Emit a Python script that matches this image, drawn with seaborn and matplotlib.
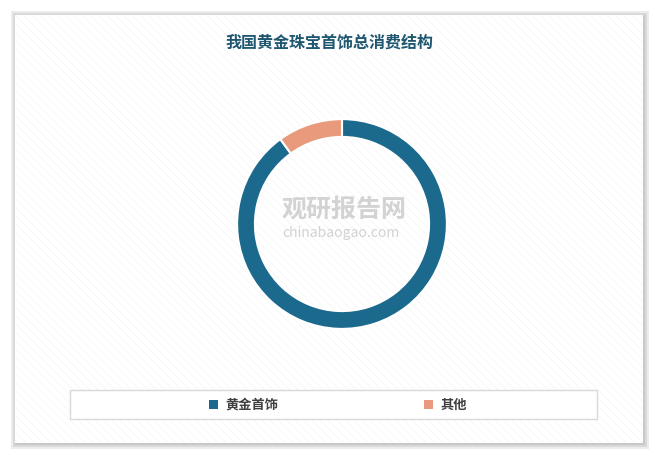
import matplotlib
matplotlib.use("Agg")
import matplotlib.pyplot as plt
from matplotlib.patches import Rectangle, Patch
import seaborn as sns

# data
categories = ["黄金首饰", "其他"]
shares = [90, 10]
colors = ["#1b6a8e", "#e99a7c"]
title = "我国黄金珠宝首饰总消费结构"

sns.set_theme(style="white")
plt.rcParams['font.family'] = ['Noto Sans CJK SC', 'DejaVu Sans']
plt.rcParams['hatch.linewidth'] = 0.5

W, H = 658, 457
fig = plt.figure(figsize=(W / 100, H / 100), dpi=100)
fig.patch.set_facecolor("white")


def px_rect(x0, y0, x1, y1, **kw):
    # rectangle given in pixel coords (top-left origin)
    return Rectangle((x0 / W, 1 - y1 / H), (x1 - x0) / W, (y1 - y0) / H,
                     transform=fig.transFigure, **kw)


# panel shadow + panel
for off, c in [(6, "#ececec"), (4, "#d9d9d9"), (2, "#c8c8c8")]:
    fig.patches.append(px_rect(15 - off + 2, 15 - off + 2, 643 + off, 443 + off,
                               facecolor=c, edgecolor="none", zorder=0))
fig.patches.append(px_rect(15, 15, 643, 443, facecolor="white", edgecolor="none", zorder=0))
fig.patches.append(px_rect(15, 15, 643, 443, facecolor="none", edgecolor="#f5f5f5",
                           hatch="\\\\\\\\", linewidth=0, zorder=0))

fig.text(0.5, 1 - 42 / H, title, ha="center", va="center", fontsize=11.5,
         fontweight="bold", color="#1f5670")

# donut
cx, cy, r = 342, 224, 107
ax = fig.add_axes([(cx - r) / W, 1 - (cy + r) / H, 2 * r / W, 2 * r / H])
ax.set_zorder(2)
ax.patch.set_alpha(0)
ax.pie(shares, colors=colors, startangle=90, counterclock=False, radius=1,
       wedgeprops=dict(width=0.17, edgecolor="white", linewidth=1.5))
ax.set_xlim(-1.02, 1.02)
ax.set_ylim(-1.02, 1.02)
ax.set_aspect("equal")
ax.axis("off")

# watermark
fig.text(0.5 + 15 / W, 1 - 210 / H, "观研报告网", ha="center", va="center",
         fontsize=18, fontweight="bold", color="#c8c8c8", alpha=0.8, zorder=3)
fig.text(0.5 + 12 / W, 1 - 233 / H, "chinabaogao.com", ha="center", va="center",
         fontsize=10, color="#c8c8c8", alpha=0.8, zorder=3)

# legend box
fig.patches.append(px_rect(70, 390, 597, 419, facecolor="white", edgecolor="#d9d9d9",
                           linewidth=1, zorder=1))
handles = [Patch(facecolor=c, edgecolor="none") for c in colors]
leg = fig.legend(handles, categories, loc="center", ncol=2,
                 bbox_to_anchor=(338 / W, 1 - 405 / H), frameon=False,
                 fontsize=9.5, handlelength=0.7, handleheight=0.7,
                 handletextpad=0.6, columnspacing=11)
for t in leg.get_texts():
    t.set_color("#404040")
    t.set_fontweight("bold")
leg.set_zorder(3)

fig.savefig("out.png", dpi=100)
